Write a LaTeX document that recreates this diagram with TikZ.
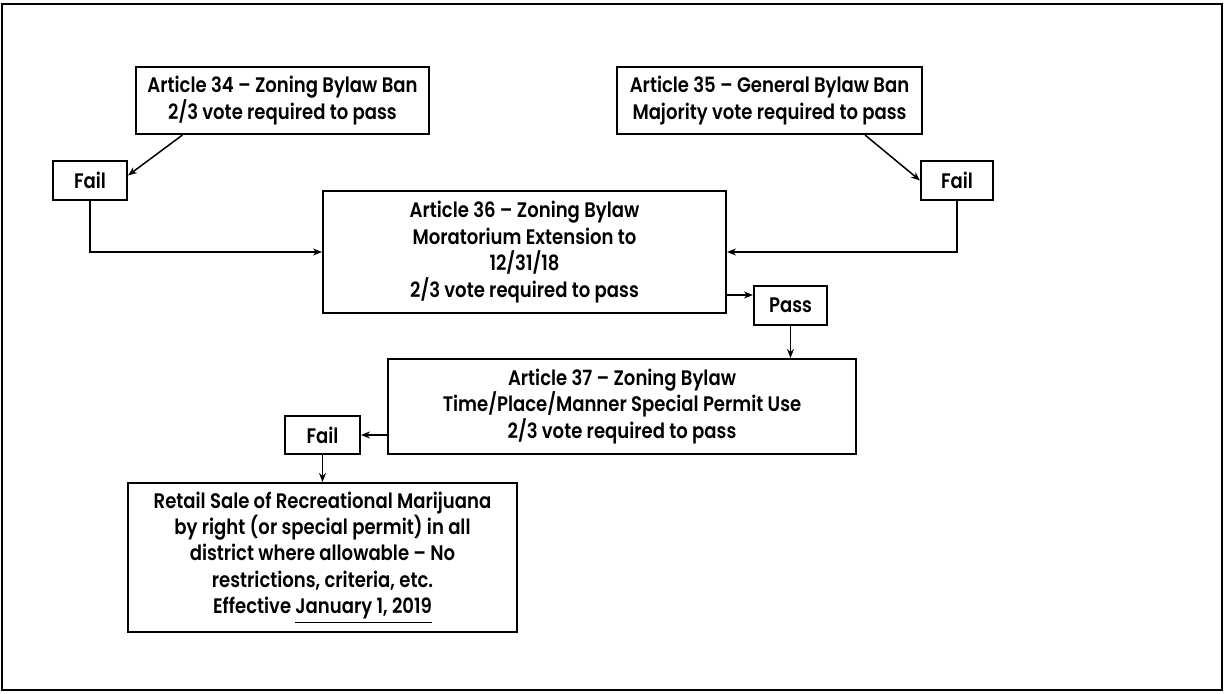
\documentclass[tikz,border=0pt]{standalone}
\usepackage{fontspec}
\setmainfont{Poppins}[FakeStretch=0.86,UprightFont=* SemiBold]
\usetikzlibrary{arrows.meta,calc}

\begin{document}
\begin{tikzpicture}[x=0.5pt,y=-0.5pt,
  box/.style={draw,line width=1pt,align=center,inner sep=0pt,
    font=\fontsize{10.5}{13.2}\selectfont},
  conn/.style={line width=0.75pt,-{Stealth[length=4.5pt,width=3.5pt]}}]
% page frame
\useasboundingbox (0,0) rectangle (1225,694);
\draw[line width=1.3pt] (2,4) rectangle (1222,690);

% boxes
\node[box,minimum width=146.5pt,minimum height=33.5pt] (a34) at (282.5,100.5)
  {Article 34 – Zoning Bylaw Ban\\2/3 vote required to pass};
\node[box,minimum width=152.5pt,minimum height=33.5pt] (a35) at (769.5,100.5)
  {Article 35 – General Bylaw Ban\\Majority vote required to pass};
\node[box,minimum width=37pt,minimum height=19.5pt] (failL) at (90,180.5) {Fail};
\node[box,minimum width=36pt,minimum height=19.5pt] (failR) at (957,180.5) {Fail};
\node[box,minimum width=201.5pt,minimum height=61pt] (a36) at (524.5,252)
  {Article 36 – Zoning Bylaw\\Moratorium Extension to\\12/31/18\\2/3 vote required to pass};
\node[box,minimum width=36.5pt,minimum height=19.5pt] (pass) at (790.5,305.5) {Pass};
\node[box,minimum width=234pt,minimum height=47.5pt] (a37) at (622,406.5)
  {Article 37 – Zoning Bylaw\\Time/Place/Manner Special Permit Use\\2/3 vote required to pass};
\node[box,minimum width=37.5pt,minimum height=19pt] (failB) at (322.5,435) {Fail};
\node[box,minimum width=194.5pt,minimum height=74.5pt] (retail) at (322.5,557.5)
  {Retail Sale of Recreational Marijuana\\by right (or special permit) in all\\district where allowable – No\\restrictions, criteria, etc.\\Effective \underline{January 1, 2019}};

% connectors
\draw[conn] ([xshift=-50pt]a34.south) -- ([yshift=2.5pt]failL.east);
\draw[conn] ([xshift=47.75pt]a35.south) -- (failR.west);
\draw[conn] (failL.south) |- (a36.west);
\draw[conn] (failR.south) |- (a36.east);
\draw[conn] ([yshift=-21.5pt]a36.east) -- ([yshift=-21.5pt]a36.east -| pass.west);
\draw[conn] (pass.south) -- (pass.south |- a37.north);
\draw[conn] (failB.east -| a37.west) -- (failB.east);
\draw[conn] (failB.south) -- (retail.north);
\end{tikzpicture}
\end{document}
